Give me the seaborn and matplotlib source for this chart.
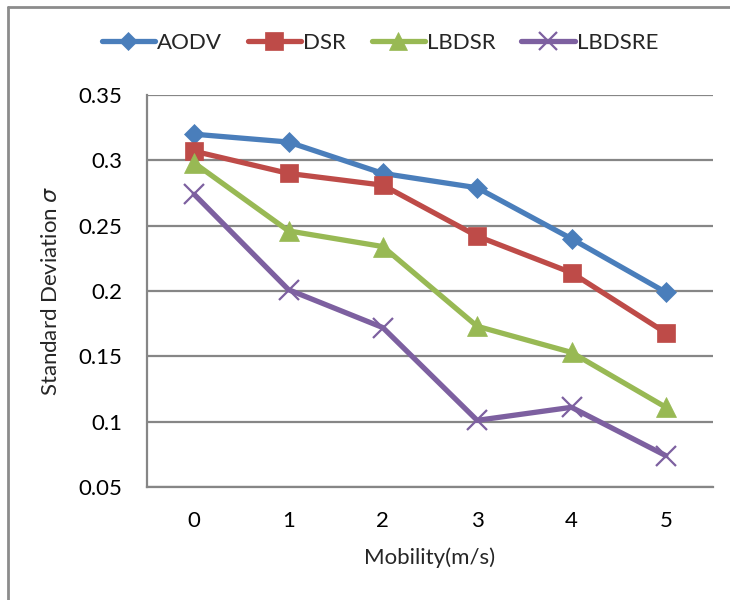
import matplotlib
matplotlib.use("Agg")
import matplotlib.pyplot as plt
from matplotlib.lines import Line2D
import seaborn as sns
import pandas as pd

# Standard deviation of load vs. node mobility for four routing protocols
mobility = [0, 1, 2, 3, 4, 5]
aodv = [0.320, 0.314, 0.290, 0.279, 0.240, 0.199]
dsr = [0.307, 0.290, 0.281, 0.242, 0.214, 0.168]
lbdsr = [0.298, 0.246, 0.234, 0.173, 0.153, 0.111]
lbdsre = [0.274, 0.201, 0.172, 0.101, 0.111, 0.074]
protocols = ["AODV", "DSR", "LBDSR", "LBDSRE"]
y_ticks = [0.05, 0.1, 0.15, 0.2, 0.25, 0.3, 0.35]
y_tick_labels = ["0.05", "0.1", "0.15", "0.2", "0.25", "0.3", "0.35"]

colors = {"AODV": "#4A7EBB", "DSR": "#BE4B48", "LBDSR": "#98B954", "LBDSRE": "#7D60A0"}
markers = {"AODV": "D", "DSR": "s", "LBDSR": "^", "LBDSRE": "x"}
msizes = {"AODV": 10, "DSR": 13, "LBDSR": 14, "LBDSRE": 14}

df = pd.DataFrame({
    "Mobility": mobility * 4,
    "Std": aodv + dsr + lbdsr + lbdsre,
    "Protocol": sum([[p] * len(mobility) for p in protocols], []),
})

sns.set_style("white")
plt.rcParams["font.family"] = ["Lato", "DejaVu Sans"]
plt.rcParams["mathtext.fontset"] = "dejavusans"

FS = 16

fig = plt.figure(figsize=(7.3, 6.0), dpi=100)
ax = fig.add_axes([147 / 730, 1 - 487 / 600, (713 - 147) / 730, (487 - 95) / 600])

sns.lineplot(data=df, x="Mobility", y="Std", hue="Protocol", hue_order=protocols,
             palette=colors, linewidth=3.8, legend=False, ax=ax, zorder=3)

# markers on top of each line
for line, p in zip(ax.get_lines(), protocols):
    line.set_marker(markers[p])
    line.set_markersize(msizes[p])
    line.set_markerfacecolor(colors[p])
    line.set_markeredgecolor(colors[p])
    line.set_markeredgewidth(1.6 if p == "LBDSRE" else 0.5)
    line.set_solid_capstyle("round")
    line.set_solid_joinstyle("round")

ax.set_xlim(-0.5, 5.5)
ax.set_ylim(0.05, 0.35)
ax.set_xticks(mobility)
ax.set_xticklabels([str(m) for m in mobility])
ax.set_yticks(y_ticks)
ax.set_yticklabels(y_tick_labels)
ax.tick_params(axis="both", length=0, labelsize=FS, colors="black")
ax.tick_params(axis="y", pad=18)
ax.tick_params(axis="x", pad=17)
ax.grid(axis="y", color="#868686", linewidth=1.6)
ax.set_axisbelow(True)
for side in ["top", "right"]:
    ax.spines[side].set_visible(False)
for side in ["left", "bottom"]:
    ax.spines[side].set_color("#868686")
    ax.spines[side].set_linewidth(1.6)

ax.set_xlabel("Mobility(m/s)", fontsize=FS, labelpad=12)
ax.set_ylabel(r"Standard Deviation $\sigma$", fontsize=FS, labelpad=12)

handles = [Line2D([], [], color=colors[p], linewidth=3.8, marker=markers[p],
                  markersize=msizes[p] * 0.95, markerfacecolor=colors[p],
                  markeredgecolor=colors[p], markeredgewidth=1.6 if p == "LBDSRE" else 0.5,
                  solid_capstyle="round")
           for p in protocols]
fig.legend(handles, protocols, loc="center", bbox_to_anchor=(380 / 730, 1 - 43 / 600),
           ncol=4, frameon=False, fontsize=FS, handlelength=2.4, handletextpad=0.1,
           columnspacing=1.15)

# chart frame
fig.add_artist(Line2D([8 / 730, 8 / 730], [0, 1 - 7 / 600], transform=fig.transFigure,
                      color="#8c8c8c", linewidth=2))
fig.add_artist(Line2D([8 / 730, 1], [1 - 7 / 600, 1 - 7 / 600], transform=fig.transFigure,
                      color="#8c8c8c", linewidth=2))

fig.savefig("out.png", dpi=100, facecolor="white")
